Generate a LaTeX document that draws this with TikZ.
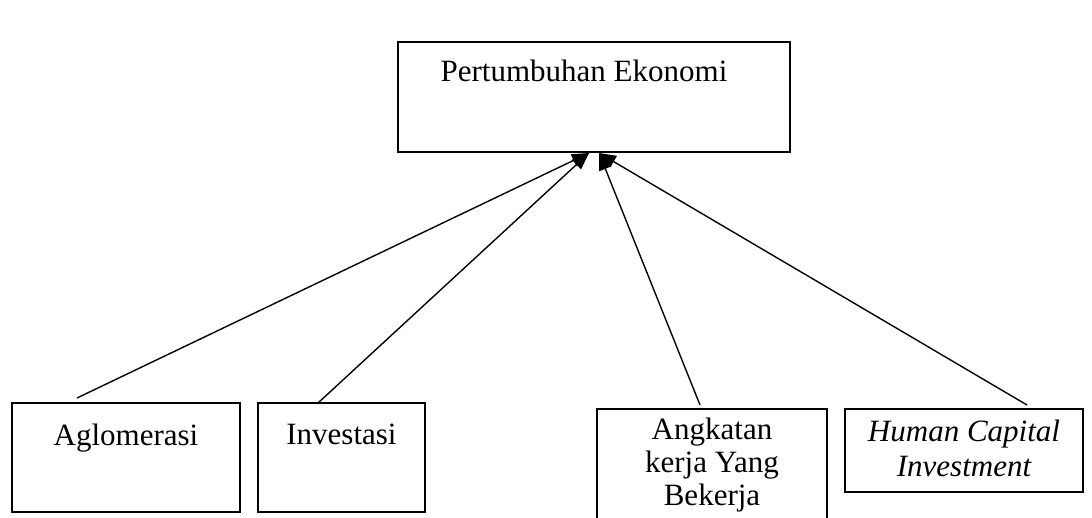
\documentclass[tikz,border=0pt]{standalone}
\usepackage{fontspec}
\setmainfont{Liberation Serif}
\usetikzlibrary{arrows.meta}
\begin{document}
\begin{tikzpicture}[x=1pt,y=-1pt,
  box/.style={draw,line width=1.8pt,rectangle,inner sep=0pt},
  lbl/.style={font=\fontsize{31}{35}\selectfont,align=center,inner sep=0pt,anchor=north},
  conn/.style={line width=1.4pt,-{Triangle[length=17pt,width=13pt]}}]
\useasboundingbox (0,0) rectangle (1092,518);
\clip (0,0) rectangle (1092,518);
% boxes
\node[box,minimum width=392pt,minimum height=110pt] (top) at (594,97) {};
\node[box,minimum width=228pt,minimum height=109pt] (agl) at (126,457.5) {};
\node[box,minimum width=167pt,minimum height=109pt] (inv) at (341.5,457.5) {};
\node[box,minimum width=230pt,minimum height=150pt] (ang) at (712,484) {};
\node[box,minimum width=238pt,minimum height=83pt] (hc) at (964,450.5) {};
% texts
\node[lbl] (ttop) at ([xshift=-10pt,yshift=-19pt]top.north) {Pertumbuhan Ekonomi};
\node[lbl] (tagl) at ([yshift=-22pt]agl.north) {Aglomerasi};
\node[lbl] (tinv) at ([yshift=-22pt]inv.north) {Investasi};
\node[lbl,font=\fontsize{31}{33}\selectfont] (tang) at ([yshift=-10pt]ang.north) {Angkatan\\kerja Yang\\Bekerja};
\node[lbl] (thc) at ([yshift=-12pt]hc.north) {\itshape Human Capital\\\itshape Investment};
% connector ends
\coordinate (tipL) at (589,153);
\coordinate (tipR) at (599,153);
\coordinate (sagl) at (77,398);
\coordinate (sinv) at (318,403);
\coordinate (sang) at (700,405);
\coordinate (shc) at (1027,405);
\draw[conn] (sagl) -- (tipL);
\draw[conn] (sinv) -- (tipL);
\draw[conn] (sang) -- (tipR);
\draw[conn] (shc) -- (tipR);
\end{tikzpicture}
\end{document}
